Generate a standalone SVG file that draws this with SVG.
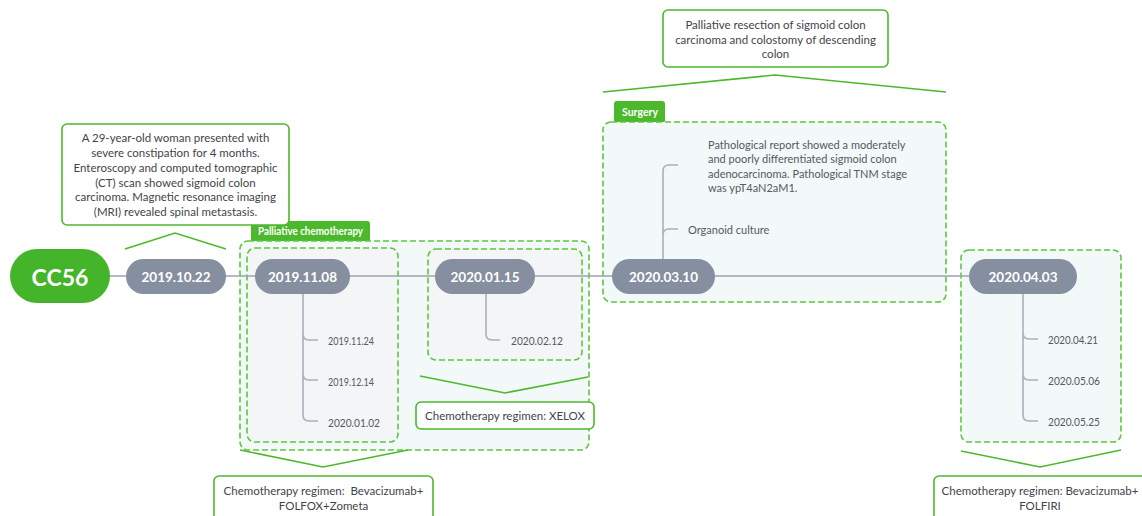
<svg xmlns="http://www.w3.org/2000/svg" width="1142" height="516" viewBox="0 0 1142 516">
<style>
.pill{fill:#868fa0}
.pt{font-family:Lato,"Noto Sans",sans-serif;font-weight:bold;font-size:13.5px;fill:#fff;text-anchor:middle;dominant-baseline:central}
.ct{font-family:Lato,"Noto Sans",sans-serif;font-size:11px;fill:#555a62;dominant-baseline:central}
.bt{font-family:Lato,"Noto Sans",sans-serif;font-size:11.5px;fill:#3f444b;text-anchor:middle;dominant-baseline:central}
.tag{fill:#4cb92c}
.tt{font-family:Lato,"Noto Sans",sans-serif;font-weight:bold;font-size:10.5px;fill:#fff;dominant-baseline:central}
.dash{fill:#f3f8f8;stroke:#5cc83c;stroke-width:1.6;stroke-dasharray:6 3}
.dash2{fill:#f4f5f6;stroke:#5cc83c;stroke-width:1.6;stroke-dasharray:6 3}
.box{fill:#fff;stroke:#4cb92c;stroke-width:1.6}
.br{fill:none;stroke:#4cb92c;stroke-width:1.6}
.tl{fill:none;stroke:#9aa3b3;stroke-width:1.6}
.el{fill:none;stroke:#a8b0bd;stroke-width:1.6}
</style>
<rect width="1142" height="516" fill="#fff"/>
<g id="group-chemo1">
<rect class="tag" x="251" y="221" width="119" height="22" rx="3"/>
<text class="tt" x="258" y="231" textLength="105" lengthAdjust="spacingAndGlyphs">Palliative chemotherapy</text>
<rect class="dash" x="240" y="241" width="349" height="209" rx="8"/>
<rect class="dash2" x="247" y="248" width="151" height="194" rx="8"/>
<rect class="dash2" x="428" y="249" width="154" height="111" rx="8"/>
</g>
<g id="group-surgery">
<rect class="tag" x="614" y="101" width="51" height="22" rx="3"/>
<text class="tt" x="622" y="112" textLength="36" lengthAdjust="spacingAndGlyphs">Surgery</text>
<rect class="dash" x="603" y="122" width="343" height="180" rx="8"/>
</g>
<g id="group-chemo2">
<rect class="dash" x="961" y="250" width="160" height="192" rx="8"/>
</g>
<g id="connectors">
<line class="tl" x1="110" y1="276" x2="969" y2="276"/>
<path class="el" d="M303 294 V415 Q303 421 309 421 H318 M303 334 Q303 340 309 340 H318 M303 374 Q303 380 309 380 H318"/>
<path class="el" d="M486 294 V334 Q486 340 492 340 H500"/>
<path class="el" d="M663 259 V171 Q663 165 669 165 H678 M663 235 Q663 229 669 229 H678"/>
<path class="el" d="M1023 294 V415 Q1023 421 1029 421 H1038 M1023 333 Q1023 339 1029 339 H1038 M1023 374 Q1023 380 1029 380 H1038"/>
<polyline class="br" points="125,249 175,233 226,249"/>
<polyline class="br" points="603,92 775,75 946,92"/>
<polyline class="br" points="420,376 505,393 588,377"/>
<polyline class="br" points="240,450 323,467 408,450"/>
<polyline class="br" points="961,451 1040,467 1121,450"/>
</g>
<g id="node-cc56">
<rect x="10" y="249" width="100" height="54" rx="27" fill="#44b52a"/>
<text x="60" y="277" font-family="Lato,'Noto Sans',sans-serif" font-weight="bold" font-size="23" fill="#fff" text-anchor="middle" dominant-baseline="central">CC56</text>
</g>
<g id="node-20191022">
<rect class="pill" x="126" y="259" width="100" height="35" rx="17.5"/>
<text class="pt" x="176" y="277">2019.10.22</text>
</g>
<g id="note-presentation">
<rect class="box" x="62" y="124" width="227" height="101" rx="5"/>
<text class="bt" x="175.5" y="137">A 29-year-old woman presented with</text>
<text class="bt" x="175.5" y="152">severe constipation for 4 months.</text>
<text class="bt" x="175.5" y="167">Enteroscopy and computed tomographic</text>
<text class="bt" x="175.5" y="182">(CT) scan showed sigmoid colon</text>
<text class="bt" x="175.5" y="196">carcinoma. Magnetic resonance imaging</text>
<text class="bt" x="175.5" y="211">(MRI) revealed spinal metastasis.</text>
</g>
<g id="node-20191108">
<rect class="pill" x="255" y="259" width="95" height="35" rx="17.5"/>
<text class="pt" x="302.5" y="277">2019.11.08</text>
<text class="ct" x="328" y="340" textLength="46" lengthAdjust="spacingAndGlyphs">2019.11.24</text>
<text class="ct" x="328" y="381" textLength="46" lengthAdjust="spacingAndGlyphs">2019.12.14</text>
<text class="ct" x="328" y="422" textLength="52" lengthAdjust="spacingAndGlyphs">2020.01.02</text>
</g>
<g id="node-20200115">
<rect class="pill" x="435" y="259" width="100" height="35" rx="17.5"/>
<text class="pt" x="485" y="277">2020.01.15</text>
<text class="ct" x="511" y="340" textLength="52" lengthAdjust="spacingAndGlyphs">2020.02.12</text>
</g>
<g id="note-xelox">
<rect class="box" x="416" y="402" width="178" height="27" rx="5"/>
<text class="bt" x="505" y="415.5">Chemotherapy regimen: XELOX</text>
</g>
<g id="note-folfox">
<rect class="box" x="214" y="476" width="219" height="48" rx="5"/>
<text class="bt" x="323.5" y="490" xml:space="preserve">Chemotherapy regimen:  Bevacizumab+</text>
<text class="bt" x="323.5" y="505">FOLFOX+Zometa</text>
</g>
<g id="node-20200310">
<rect class="pill" x="612" y="259" width="103" height="35" rx="17.5"/>
<text class="pt" x="663.5" y="277">2020.03.10</text>
<text class="ct" x="708" y="144">Pathological report showed a moderately</text>
<text class="ct" x="708" y="158">and poorly differentiated sigmoid colon</text>
<text class="ct" x="708" y="173">adenocarcinoma. Pathological TNM stage</text>
<text class="ct" x="708" y="187">was ypT4aN2aM1.</text>
<text class="ct" x="688" y="229">Organoid culture</text>
</g>
<g id="note-surgery">
<rect class="box" x="663" y="10" width="225" height="57" rx="5"/>
<text class="bt" x="775.5" y="24">Palliative resection of sigmoid colon</text>
<text class="bt" x="775.5" y="39">carcinoma and colostomy of descending</text>
<text class="bt" x="775.5" y="53">colon</text>
</g>
<g id="node-20200403">
<rect class="pill" x="969" y="259" width="108" height="35" rx="17.5"/>
<text class="pt" x="1023" y="277">2020.04.03</text>
<text class="ct" x="1048" y="339" textLength="50" lengthAdjust="spacingAndGlyphs">2020.04.21</text>
<text class="ct" x="1048" y="380" textLength="52" lengthAdjust="spacingAndGlyphs">2020.05.06</text>
<text class="ct" x="1048" y="421" textLength="52" lengthAdjust="spacingAndGlyphs">2020.05.25</text>
</g>
<g id="note-folfiri">
<rect class="box" x="934" y="476" width="220" height="48" rx="5"/>
<text class="bt" x="1040" y="490">Chemotherapy regimen: Bevacizumab+</text>
<text class="bt" x="1040" y="505">FOLFIRI</text>
</g>
</svg>
